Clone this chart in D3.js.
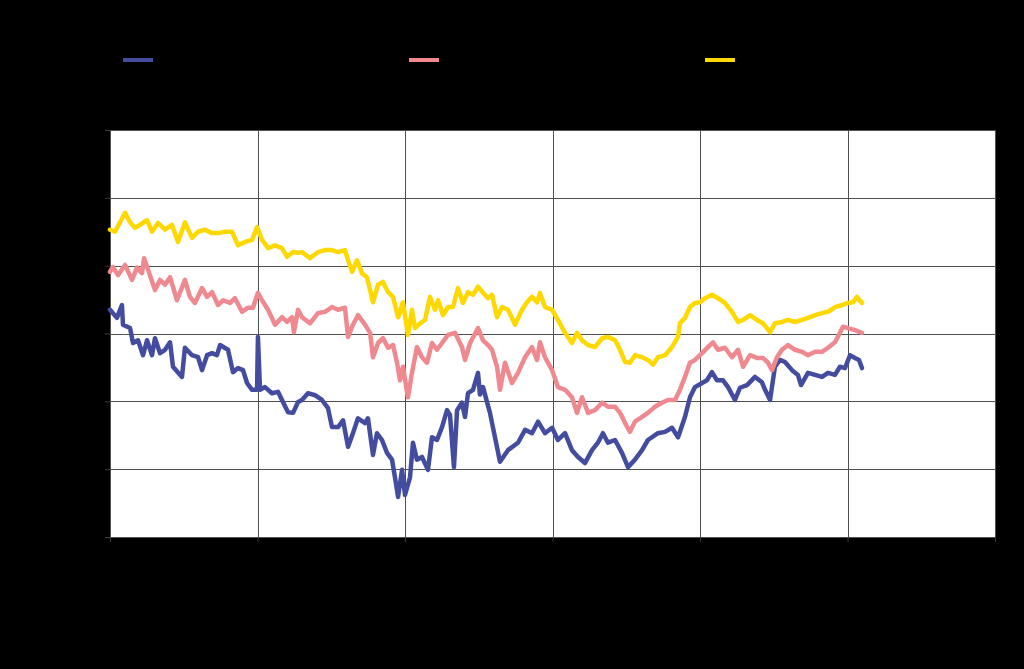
<!DOCTYPE html>
<html>
<head>
<meta charset="utf-8">
<script src="https://cdn.jsdelivr.net/npm/d3@7"></script>
<style>
  html, body { margin: 0; padding: 0; background: #000; }
  svg { display: block; }
</style>
</head>
<body>
<svg id="chart" width="1024" height="669"></svg>
<script>
// ---- data (x in years from start, y in chart units) ----
const seriesNames = ["Series A", "Series B", "Series C"];
const seriesColors = ["#434c9e", "#f0898f", "#ffd800"];
const xTickValues = [0, 1, 2, 3, 4, 5, 6];
const xTickLabels = ["2008", "2009", "2010", "2011", "2012", "2013", "2014"];
const yTickValues = [0, 1, 2, 3, 4, 5, 6];
const yTickLabels = ["0", "1", "2", "3", "4", "5", "6"];

const seriesA = [[0,3.35],[0.047,3.23],[0.081,3.42],[0.088,3.13],[0.136,3.08],[0.156,2.86],[0.190,2.90],[0.224,2.68],[0.251,2.90],[0.285,2.68],[0.305,2.93],[0.339,2.71],[0.373,2.76],[0.407,2.87],[0.427,2.51],[0.488,2.36],[0.508,2.79],[0.556,2.68],[0.597,2.65],[0.624,2.46],[0.658,2.68],[0.692,2.71],[0.725,2.68],[0.746,2.83],[0.800,2.76],[0.834,2.43],[0.868,2.49],[0.902,2.46],[0.929,2.27],[0.963,2.17],[0.997,2.17],[1.003,2.95],[1.017,2.17],[1.051,2.21],[1.098,2.12],[1.139,2.14],[1.166,2.02],[1.207,1.84],[1.241,1.83],[1.275,1.99],[1.302,2.02],[1.342,2.12],[1.390,2.09],[1.437,2.02],[1.478,1.90],[1.505,1.62],[1.546,1.62],[1.580,1.72],[1.614,1.33],[1.647,1.53],[1.681,1.75],[1.729,1.68],[1.749,1.75],[1.783,1.21],[1.810,1.53],[1.844,1.43],[1.878,1.24],[1.912,1.14],[1.932,0.88],[1.953,0.59],[1.980,0.99],[2.000,0.62],[2.034,0.88],[2.054,1.39],[2.081,1.14],[2.115,1.18],[2.156,0.99],[2.183,1.47],[2.217,1.43],[2.251,1.62],[2.285,1.87],[2.305,1.80],[2.332,1.03],[2.353,1.87],[2.386,1.98],[2.407,1.77],[2.427,2.12],[2.461,2.17],[2.495,2.42],[2.508,2.10],[2.529,2.21],[2.576,1.83],[2.644,1.11],[2.698,1.28],[2.766,1.39],[2.814,1.58],[2.861,1.53],[2.902,1.70],[2.949,1.53],[2.997,1.61],[3.037,1.43],[3.085,1.53],[3.132,1.28],[3.173,1.18],[3.220,1.09],[3.268,1.28],[3.308,1.39],[3.342,1.53],[3.376,1.39],[3.424,1.43],[3.471,1.24],[3.512,1.03],[3.559,1.14],[3.607,1.28],[3.647,1.43],[3.715,1.53],[3.763,1.55],[3.810,1.61],[3.851,1.47],[3.898,1.77],[3.932,2.06],[3.966,2.21],[4.014,2.27],[4.047,2.31],[4.081,2.43],[4.115,2.31],[4.156,2.31],[4.190,2.21],[4.237,2.02],[4.271,2.20],[4.319,2.24],[4.373,2.36],[4.420,2.28],[4.441,2.17],[4.475,2.02],[4.508,2.51],[4.542,2.61],[4.576,2.58],[4.624,2.46],[4.664,2.39],[4.685,2.24],[4.732,2.42],[4.780,2.39],[4.827,2.36],[4.868,2.42],[4.915,2.39],[4.949,2.51],[4.983,2.49],[5.017,2.68],[5.051,2.64],[5.078,2.61],[5.098,2.49]];

const seriesB = [[0,3.91],[0.020,3.98],[0.054,3.86],[0.102,4.01],[0.149,3.79],[0.183,3.97],[0.217,3.89],[0.231,4.11],[0.258,3.94],[0.305,3.64],[0.339,3.79],[0.373,3.72],[0.407,3.83],[0.454,3.49],[0.508,3.79],[0.542,3.54],[0.576,3.45],[0.624,3.67],[0.658,3.54],[0.692,3.61],[0.732,3.42],[0.766,3.49],[0.814,3.45],[0.847,3.52],[0.895,3.32],[0.936,3.38],[0.969,3.38],[1.003,3.60],[1.031,3.49],[1.071,3.35],[1.119,3.13],[1.166,3.24],[1.200,3.17],[1.234,3.24],[1.247,3.02],[1.275,3.35],[1.302,3.24],[1.356,3.15],[1.410,3.30],[1.458,3.32],[1.505,3.39],[1.546,3.35],[1.593,3.38],[1.614,2.95],[1.647,3.13],[1.681,3.27],[1.729,3.13],[1.763,3.01],[1.783,2.65],[1.817,2.86],[1.851,2.93],[1.885,2.79],[1.919,2.83],[1.946,2.57],[1.966,2.31],[1.986,2.51],[2.020,2.06],[2.047,2.42],[2.081,2.80],[2.115,2.65],[2.149,2.57],[2.183,2.86],[2.217,2.76],[2.251,2.86],[2.292,2.98],[2.339,3.01],[2.386,2.80],[2.407,2.61],[2.441,2.86],[2.495,3.08],[2.529,2.90],[2.563,2.83],[2.590,2.76],[2.624,2.51],[2.644,2.17],[2.678,2.57],[2.725,2.27],[2.766,2.42],[2.814,2.65],[2.861,2.80],[2.895,2.61],[2.915,2.87],[2.949,2.65],[2.997,2.46],[3.037,2.21],[3.085,2.17],[3.132,2.06],[3.166,1.83],[3.200,2.06],[3.241,1.83],[3.288,1.87],[3.336,1.98],[3.376,1.92],[3.424,1.92],[3.458,1.83],[3.492,1.68],[3.525,1.55],[3.559,1.70],[3.607,1.77],[3.647,1.83],[3.695,1.92],[3.742,1.98],[3.783,2.02],[3.831,2.02],[3.864,2.17],[3.898,2.36],[3.932,2.57],[3.966,2.61],[4.014,2.71],[4.054,2.80],[4.088,2.87],[4.122,2.76],[4.169,2.79],[4.217,2.65],[4.258,2.76],[4.292,2.51],[4.339,2.68],[4.386,2.64],[4.427,2.64],[4.461,2.57],[4.488,2.46],[4.522,2.65],[4.556,2.76],[4.597,2.83],[4.644,2.76],[4.692,2.73],[4.732,2.68],[4.780,2.73],[4.827,2.73],[4.868,2.79],[4.915,2.87],[4.949,3.01],[4.969,3.10],[5.003,3.08],[5.051,3.05],[5.098,3.01]];

const seriesC = [[0,4.53],[0.034,4.50],[0.068,4.64],[0.102,4.78],[0.136,4.64],[0.169,4.56],[0.203,4.60],[0.251,4.67],[0.285,4.50],[0.325,4.63],[0.373,4.53],[0.420,4.60],[0.461,4.35],[0.508,4.64],[0.556,4.41],[0.597,4.50],[0.644,4.53],[0.692,4.48],[0.732,4.48],[0.780,4.50],[0.827,4.50],[0.868,4.30],[0.915,4.35],[0.963,4.38],[0.997,4.57],[1.031,4.38],[1.071,4.26],[1.119,4.30],[1.166,4.26],[1.200,4.13],[1.241,4.20],[1.275,4.19],[1.302,4.20],[1.356,4.11],[1.410,4.20],[1.458,4.23],[1.505,4.23],[1.546,4.20],[1.593,4.23],[1.614,4.08],[1.641,3.91],[1.675,4.08],[1.708,3.89],[1.742,3.83],[1.783,3.46],[1.817,3.72],[1.851,3.76],[1.885,3.61],[1.919,3.54],[1.953,3.24],[1.986,3.46],[2.020,2.98],[2.047,3.35],[2.068,3.08],[2.102,3.15],[2.136,3.20],[2.169,3.54],[2.203,3.35],[2.224,3.49],[2.258,3.27],[2.292,3.39],[2.325,3.39],[2.359,3.67],[2.393,3.45],[2.427,3.61],[2.461,3.57],[2.495,3.69],[2.529,3.60],[2.563,3.52],[2.590,3.57],[2.624,3.24],[2.658,3.39],[2.698,3.35],[2.746,3.13],[2.793,3.35],[2.827,3.46],[2.861,3.54],[2.895,3.46],[2.915,3.60],[2.949,3.39],[2.997,3.35],[3.037,3.20],[3.085,3.01],[3.132,2.86],[3.166,3.01],[3.200,2.90],[3.241,2.83],[3.288,2.80],[3.336,2.93],[3.376,2.95],[3.424,2.90],[3.458,2.76],[3.492,2.58],[3.525,2.57],[3.559,2.68],[3.607,2.65],[3.647,2.61],[3.681,2.54],[3.715,2.65],[3.763,2.68],[3.810,2.80],[3.851,2.95],[3.864,3.15],[3.898,3.23],[3.932,3.39],[3.966,3.45],[4.000,3.46],[4.034,3.52],[4.081,3.57],[4.122,3.52],[4.169,3.45],[4.217,3.32],[4.258,3.17],[4.292,3.20],[4.339,3.27],[4.386,3.20],[4.427,3.15],[4.475,3.02],[4.508,3.15],[4.556,3.17],[4.597,3.20],[4.644,3.17],[4.692,3.20],[4.732,3.23],[4.780,3.27],[4.827,3.30],[4.868,3.32],[4.915,3.39],[4.963,3.42],[5.003,3.45],[5.037,3.46],[5.064,3.54],[5.098,3.45]];

const allSeries = [seriesA, seriesB, seriesC];

// ---- layout ----
const W = 1024, H = 669;
const plot = { left: 110, top: 130, right: 995, bottom: 537 };

const svg = d3.select("#chart");
svg.append("rect").attr("width", W).attr("height", H).attr("fill", "#000");

const x = d3.scaleLinear().domain([0, 6]).range([plot.left, plot.right]);
const y = d3.scaleLinear().domain([0, 6]).range([plot.bottom, plot.top]);

// plot background
svg.append("rect")
  .attr("x", plot.left).attr("y", plot.top)
  .attr("width", plot.right - plot.left).attr("height", plot.bottom - plot.top)
  .attr("fill", "#fff");

// gridlines
const grid = svg.append("g").attr("stroke", "#505050").attr("stroke-width", 1).attr("shape-rendering", "crispEdges");
grid.selectAll("line.h").data(yTickValues).join("line")
  .attr("x1", plot.left).attr("x2", plot.right)
  .attr("y1", d => Math.round(y(d)) + 0.5).attr("y2", d => Math.round(y(d)) + 0.5);
grid.selectAll("line.v").data(xTickValues).join("line")
  .attr("y1", plot.top).attr("y2", plot.bottom)
  .attr("x1", d => Math.round(x(d)) + 0.5).attr("x2", d => Math.round(x(d)) + 0.5);

// axes (black labels on black background, as in the reference)
const xAxis = d3.axisBottom(x).tickValues(xTickValues).tickSize(5).tickPadding(12)
  .tickFormat((d, i) => xTickLabels[i]);
const yAxis = d3.axisLeft(y).tickValues(yTickValues).tickSize(5).tickPadding(10)
  .tickFormat((d, i) => yTickLabels[i]);
const gx = svg.append("g").attr("transform", `translate(0,${plot.bottom})`).call(xAxis);
const gy = svg.append("g").attr("transform", `translate(${plot.left},0)`).call(yAxis);
[gx, gy].forEach(g => {
  g.select(".domain").attr("stroke", "#505050");
  g.selectAll(".tick line").attr("stroke", "#3a3a3a");
  g.selectAll(".tick text").attr("fill", "#000").attr("font-family", "Liberation Sans, Arial, sans-serif").attr("font-size", 13);
});

// lines
const line = d3.line().x(d => x(d[0])).y(d => y(d[1]));
svg.append("g").selectAll("path").data(allSeries).join("path")
  .attr("d", line)
  .attr("fill", "none")
  .attr("stroke", (d, i) => seriesColors[i])
  .attr("stroke-width", 4.5)
  .attr("stroke-linejoin", "round")
  .attr("stroke-linecap", "round");

// legend
const legendX = [123, 409, 705];
const lg = svg.append("g");
seriesNames.forEach((name, i) => {
  lg.append("line")
    .attr("x1", legendX[i]).attr("x2", legendX[i] + 30)
    .attr("y1", 60).attr("y2", 60)
    .attr("stroke", seriesColors[i]).attr("stroke-width", 4);
  lg.append("text")
    .attr("x", legendX[i] + 38).attr("y", 65)
    .attr("fill", "#000")
    .attr("font-family", "Liberation Sans, Arial, sans-serif").attr("font-size", 15)
    .text(name);
});
</script>
</body>
</html>
